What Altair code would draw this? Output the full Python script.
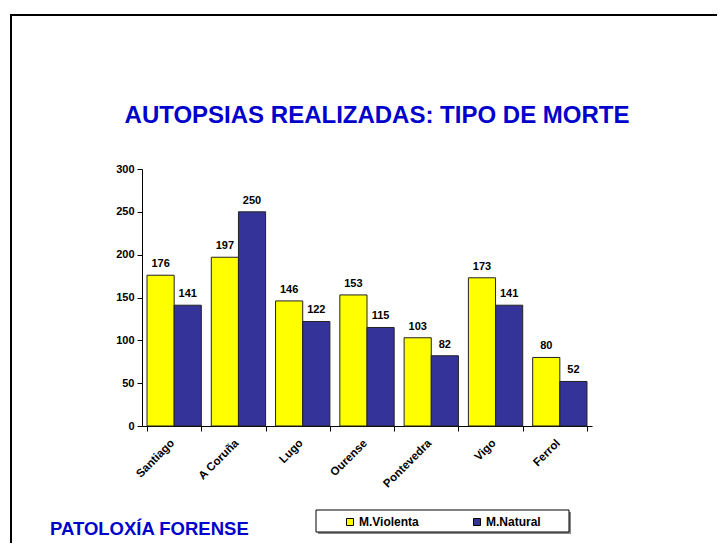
import altair as alt
import pandas as pd

cidades = ["Santiago", "A Coruña", "Lugo", "Ourense", "Pontevedra", "Vigo", "Ferrol"]
violenta = [176, 197, 146, 153, 103, 173, 80]
natural = [141, 250, 122, 115, 82, 141, 52]
series = ["M.Violenta", "M.Natural"]
cores = ["#FFFF00", "#333399"]
y_ticks = [0, 50, 100, 150, 200, 250, 300]
titulo = "AUTOPSIAS REALIZADAS: TIPO DE MORTE"
rodape = "PATOLOXÍA FORENSE"

rows = []
for c, v, n in zip(cidades, violenta, natural):
    rows.append({"Cidade": c, "Tipo": series[0], "Valor": v})
    rows.append({"Cidade": c, "Tipo": series[1], "Valor": n})
df = pd.DataFrame(rows)

FONT = "Liberation Sans"
BLUE = "#0000CC"

x_enc = alt.X("Cidade:N", sort=cidades,
              scale=alt.Scale(paddingInner=0.155, paddingOuter=0.078),
              axis=alt.Axis(title=None, labelAngle=-45, labelFont=FONT, labelFontWeight="bold",
                            labelFontSize=11.5, labelColor="black", tickBand="extent",
                            tickSize=5, tickColor="black", domainColor="black",
                            labelPadding=6, labelOffset=-6))
xo_enc = alt.XOffset("Tipo:N", sort=series)
y_enc = alt.Y("Valor:Q", scale=alt.Scale(domain=[0, 300], nice=False),
              axis=alt.Axis(title=None, values=y_ticks, grid=False, labelFont=FONT,
                            labelFontWeight="bold", labelFontSize=11, labelColor="black",
                            tickSize=5, tickColor="black", domainColor="black", labelPadding=3))

base = alt.Chart(df)

bars = base.mark_bar(stroke="#222222", strokeWidth=1).encode(
    x=x_enc,
    xOffset=xo_enc,
    y=y_enc,
    color=alt.Color("Tipo:N", sort=series,
                    scale=alt.Scale(domain=series, range=cores),
                    legend=alt.Legend(title=None, orient="none", legendX=202, legendY=347,
                                      direction="horizontal", symbolType="square",
                                      symbolSize=49, symbolStrokeColor="black",
                                      symbolStrokeWidth=1, labelFont=FONT,
                                      labelFontWeight="bold", labelFontSize=12,
                                      labelColor="black", columnPadding=52,
                                      labelOffset=3, padding=0)),
)

labels = base.mark_text(baseline="bottom", dy=-6, font=FONT, fontWeight="bold",
                        fontSize=11, color="black").encode(
    x=alt.X("Cidade:N", sort=cidades),
    xOffset=xo_enc,
    y=alt.Y("Valor:Q"),
    text=alt.Text("Valor:Q"),
)

one = pd.DataFrame({"k": [0]})
frame_top = alt.Chart(one).mark_rule(color="black", strokeWidth=2).encode(
    x=alt.value(-132), x2=alt.value(575), y=alt.value(-154))
frame_left = alt.Chart(one).mark_rule(color="black", strokeWidth=2).encode(
    x=alt.value(-131), y=alt.value(-155), y2=alt.value(374))

legend_shadow = alt.Chart(one).mark_rect(fill="#888888").encode(
    x=alt.value(176), x2=alt.value(429), y=alt.value(343), y2=alt.value(365))
legend_box = alt.Chart(one).mark_rect(fill="white", stroke="black", strokeWidth=1).encode(
    x=alt.value(174), x2=alt.value(427), y=alt.value(341), y2=alt.value(363))

title_txt = alt.Chart(one).mark_text(text=titulo, align="center", baseline="middle",
                                     font=FONT, fontWeight="bold", fontSize=24,
                                     color=BLUE).encode(
    x=alt.value(235), y=alt.value(-53))

footer = alt.Chart(one).mark_text(text=rodape, align="left", baseline="middle",
                                  font=FONT, fontWeight="bold", fontSize=18.5, color=BLUE).encode(
    x=alt.value(-92), y=alt.value(360))

chart = alt.layer(
    frame_top, frame_left, legend_shadow, legend_box, bars, labels, title_txt, footer
).properties(
    width=450,
    height=257,
    padding={"left": 134, "top": 161, "right": 125, "bottom": 117},
    autosize=alt.AutoSizeParams(type="none"),
    background="white",
).configure_view(stroke=None)

chart.save("out.html", embed_options={"renderer": "svg", "actions": False})
